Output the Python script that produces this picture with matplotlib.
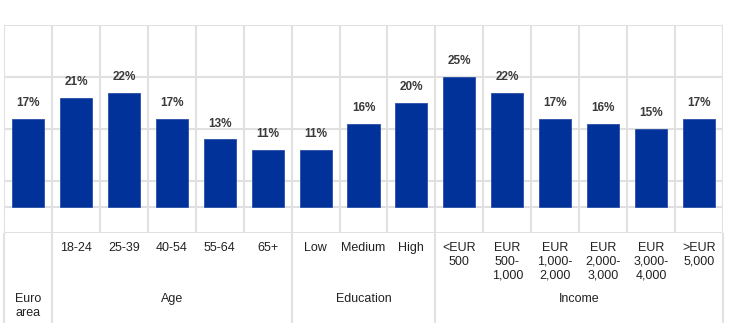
import matplotlib.pyplot as plt

plt.rcParams['font.family'] = ['Liberation Sans', 'DejaVu Sans']

categories = ["", "18-24", "25-39", "40-54", "55-64", "65+",
              "Low", "Medium", "High",
              "<EUR\n500", "EUR\n500-\n1,000", "EUR\n1,000-\n2,000",
              "EUR\n2,000-\n3,000", "EUR\n3,000-\n4,000", ">EUR\n5,000"]
values = [17, 21, 22, 17, 13, 11,
          11, 16, 20,
          25, 22, 17, 16, 15, 17]
groups = ["Euro\narea", "Age", "Education", "Income"]
group_sizes = [1, 5, 3, 6]

BLUE = "#003299"
GRID = "#e1e1e1"
TEXT = "#222222"

fig = plt.figure(figsize=(7.42, 3.28), dpi=100)
ax = fig.add_axes([4 / 742, 95 / 328, 719 / 742, 208 / 328])

x = list(range(len(values)))
ax.bar(x, values, width=0.67, color=BLUE, edgecolor="#2a4fa8", linewidth=0.6, zorder=3)

for xi, v in zip(x, values):
    ax.text(xi, v + 1.9, f"{v}%", ha="center", va="bottom",
            fontsize=8.5, fontweight="bold", color="#3a3a3a")

ax.set_xlim(-0.5, len(values) - 0.5)
ax.set_ylim(-5, 35)
for s in ax.spines.values():
    s.set_visible(False)
ax.set_xticks([])
ax.set_yticks([])

# grid inside the plot area
for y in [-5, 0, 5, 15, 25, 35]:
    ax.axhline(y, color=GRID, lw=1.5, zorder=1)
for i in range(len(values) + 1):
    ax.axvline(i - 0.5, color=GRID, lw=1.5, zorder=1)

# category labels and group separators below the plot
trans = ax.get_xaxis_transform()
for xi, lab in zip(x, categories):
    ax.text(xi, -0.045, lab, transform=trans, ha="center", va="top",
            fontsize=9, color=TEXT, linespacing=1.15, clip_on=False)

start = 0
edges = [-0.5]
for name, n in zip(groups, group_sizes):
    center = start + (n - 1) / 2
    ax.text(center, -0.29, name, transform=trans, ha="center", va="top",
            fontsize=9, color=TEXT, linespacing=1.15, clip_on=False)
    start += n
    edges.append(start - 0.5)
ax.vlines(edges, -0.433, 0, transform=trans, color=GRID, lw=1.5, clip_on=False)

fig.savefig("out.png", dpi=100)
